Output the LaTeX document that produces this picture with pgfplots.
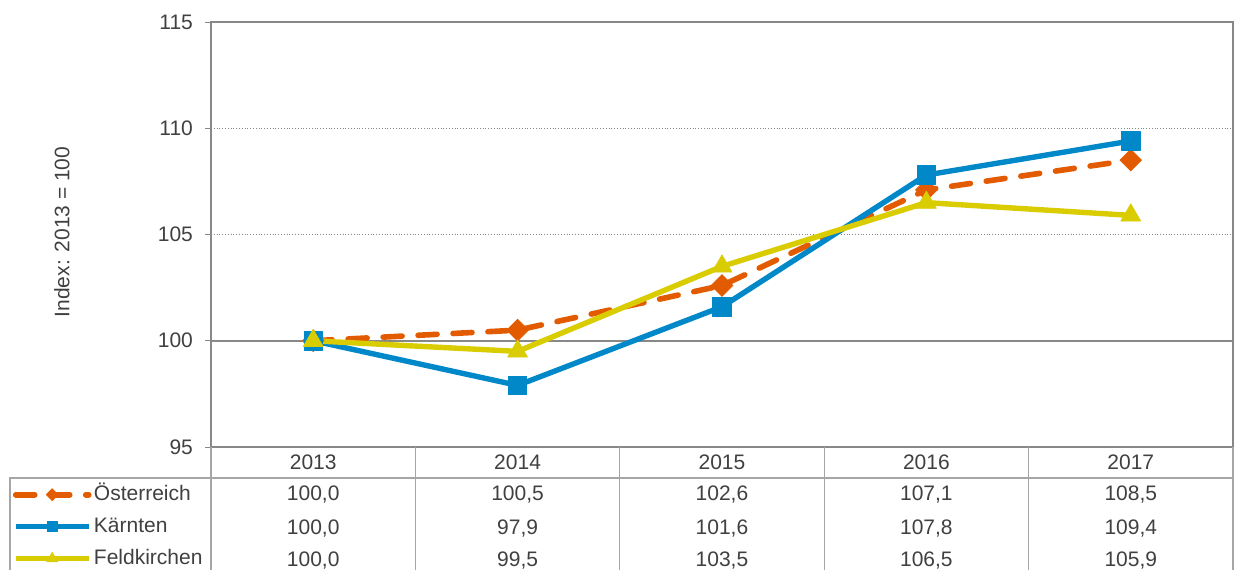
\documentclass[border=0pt]{standalone}
\usepackage{pgfplots}
\pgfplotsset{compat=1.18}
\usepackage{fontspec}
\setmainfont{Liberation Sans}
\definecolor{oe}{HTML}{E35B00}
\definecolor{ka}{HTML}{0088C8}
\definecolor{fe}{HTML}{D9CC00}
\definecolor{gl}{HTML}{888888}
\definecolor{tl}{HTML}{A6A6A6}
\definecolor{txt}{HTML}{404040}
\begin{document}
\begin{tikzpicture}[font=\fontsize{10.5}{12.6}\selectfont]
\begin{axis}[
  name=ax, at={(0,0)}, anchor=south west,
  scale only axis, width=511pt, height=212.5pt,
  xmin=-0.5, xmax=4.5, ymin=95, ymax=115,
  xtick=\empty,
  ytick={95,105,110,115}, extra y ticks={100},
  extra y tick style={grid style={gl, solid, line width=1.1pt}},
  ytick pos=left, tick align=outside, major tick length=3pt,
  tick style={gl, line width=0.5pt},
  ymajorgrids, grid style={gl, densely dotted, line width=0.5pt},
  axis line style={gl, line width=0.6pt},
  yticklabel style={txt, font=\fontsize{10.5}{12.6}\selectfont, xshift=-2.5pt},
  /pgf/number format/assume math mode=true,
  ylabel={Index: 2013 = 100},
  ylabel style={txt, at={(axis description cs:-0.1458,0.506)}, anchor=center},
  clip=false,
  legend image code/.code={\draw[mark repeat=2,mark phase=2,#1] plot coordinates {(0pt,0pt)(18.25pt,0pt)(36.5pt,0pt)};},
  legend image post style={every mark/.append style={scale=0.55}},
  legend style={at={(axis description cs:-0.1938,-0.084)}, anchor=north west,
    draw=none, fill=none, inner sep=0pt, outer sep=0pt, column sep=1.2pt, row sep=4pt,
    nodes={inner sep=0pt, text height=9pt, text depth=3pt, text=txt, font=\fontsize{10.5}{12.6}\selectfont}},
  legend cell align=left,
]
\addplot[oe, line width=2.8pt, dash pattern=on 9.5pt off 8pt, line cap=round,
  mark=square*, mark size=3.8pt, mark options={solid, rotate=45, line width=0.4pt, fill=oe}]
  coordinates {(0,100.0) (1,100.5) (2,102.6) (3,107.1) (4,108.5)};
\addlegendentry{Österreich}
\addplot[ka, line width=2.7pt, line join=round,
  mark=square*, mark size=4.6pt, mark options={solid, line width=0.4pt, fill=ka}]
  coordinates {(0,100.0) (1,97.9) (2,101.6) (3,107.8) (4,109.4)};
\addlegendentry{Kärnten}
\addplot[fe, line width=2.7pt, line join=round,
  mark=triangle*, mark size=5.7pt, mark options={solid, line width=0.4pt, fill=fe}]
  coordinates {(0,100.0) (1,99.5) (2,103.5) (3,106.5) (4,105.9)};
\addlegendentry{Feldkirchen}

% data table grid
\draw[tl, line width=0.6pt] (axis cs:-0.5,95) -- ([yshift=-64pt]axis cs:-0.5,95);
\draw[tl, line width=0.6pt] (axis cs:0.5,95) -- ([yshift=-64pt]axis cs:0.5,95);
\draw[tl, line width=0.6pt] (axis cs:1.5,95) -- ([yshift=-64pt]axis cs:1.5,95);
\draw[tl, line width=0.6pt] (axis cs:2.5,95) -- ([yshift=-64pt]axis cs:2.5,95);
\draw[tl, line width=0.6pt] (axis cs:3.5,95) -- ([yshift=-64pt]axis cs:3.5,95);
\draw[tl, line width=0.6pt] (axis cs:4.5,95) -- ([yshift=-64pt]axis cs:4.5,95);
\draw[tl, line width=0.6pt] ([xshift=-100.5pt,yshift=-64pt]axis cs:-0.5,95) -- ([xshift=-100.5pt,yshift=-15.5pt]axis cs:-0.5,95) -- ([yshift=-15.5pt]axis cs:4.5,95);

% table text
\node[anchor=base, txt] at ([yshift=-11pt]axis cs:0,95) {2013};
\node[anchor=base, txt] at ([yshift=-11pt]axis cs:1,95) {2014};
\node[anchor=base, txt] at ([yshift=-11pt]axis cs:2,95) {2015};
\node[anchor=base, txt] at ([yshift=-11pt]axis cs:3,95) {2016};
\node[anchor=base, txt] at ([yshift=-11pt]axis cs:4,95) {2017};
\node[anchor=base, txt] at ([yshift=-26.9pt]axis cs:0,95) {100,0};
\node[anchor=base, txt] at ([yshift=-26.9pt]axis cs:1,95) {100,5};
\node[anchor=base, txt] at ([yshift=-26.9pt]axis cs:2,95) {102,6};
\node[anchor=base, txt] at ([yshift=-26.9pt]axis cs:3,95) {107,1};
\node[anchor=base, txt] at ([yshift=-26.9pt]axis cs:4,95) {108,5};
\node[anchor=base, txt] at ([yshift=-43.5pt]axis cs:0,95) {100,0};
\node[anchor=base, txt] at ([yshift=-43.5pt]axis cs:1,95) {97,9};
\node[anchor=base, txt] at ([yshift=-43.5pt]axis cs:2,95) {101,6};
\node[anchor=base, txt] at ([yshift=-43.5pt]axis cs:3,95) {107,8};
\node[anchor=base, txt] at ([yshift=-43.5pt]axis cs:4,95) {109,4};
\node[anchor=base, txt] at ([yshift=-59.5pt]axis cs:0,95) {100,0};
\node[anchor=base, txt] at ([yshift=-59.5pt]axis cs:1,95) {99,5};
\node[anchor=base, txt] at ([yshift=-59.5pt]axis cs:2,95) {103,5};
\node[anchor=base, txt] at ([yshift=-59.5pt]axis cs:3,95) {106,5};
\node[anchor=base, txt] at ([yshift=-59.5pt]axis cs:4,95) {105,9};
\end{axis}
\pgfresetboundingbox
\path ([xshift=-105.5pt,yshift=-61pt]ax.south west) rectangle ([xshift=513pt,yshift=223.5pt]ax.south west);
\end{tikzpicture}
\end{document}
